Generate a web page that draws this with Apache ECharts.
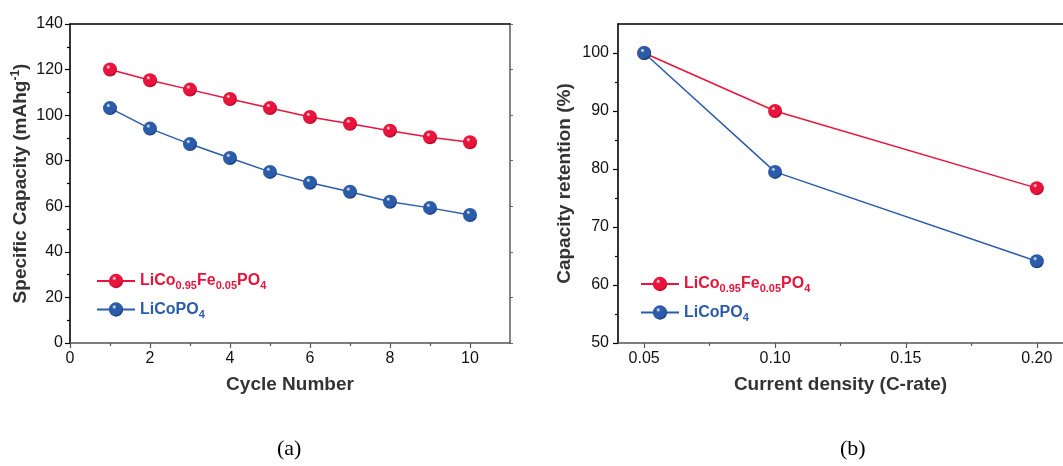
<!DOCTYPE html>
<html>
<head>
<meta charset="utf-8">
<script src="https://cdn.jsdelivr.net/npm/echarts@6/dist/echarts.min.js"></script>
<style>
  html, body { margin: 0; padding: 0; background: #fff; }
  #chart { width: 1063px; height: 466px; }
</style>
</head>
<body>
<div id="chart"></div>
<script>
// (a) capacity vs cycle
const cycles = [1, 2, 3, 4, 5, 6, 7, 8, 9, 10];
const capDoped = [120, 115.3, 111.2, 107.1, 103.1, 99.2, 96.2, 93.2, 90.3, 88.1];
const capPure = [103.1, 94.1, 87.3, 81.2, 75.1, 70.3, 66.4, 62.0, 59.3, 56.2];
const cycleTicks = [0, 2, 4, 6, 8, 10];
const cycleMinor = [1, 3, 5, 7, 9];
const capTicks = [0, 20, 40, 60, 80, 100, 120, 140];
const capMinor = [10, 30, 50, 70, 90, 110, 130];

// (b) retention vs C-rate
const rates = [0.05, 0.10, 0.20];
const retDoped = [100, 90, 76.7];
const retPure = [100, 79.5, 64.1];
const rateTicks = [0.05, 0.10, 0.15, 0.20];
const rateMinor = [0.075, 0.125, 0.175];
const retTicks = [50, 60, 70, 80, 90, 100];
const retMinor = [55, 65, 75, 85, 95];

const nameDoped = 'LiCo0.95Fe0.05PO4';
const namePure = 'LiCoPO4';

const RED = '#e8143c';
const BLUE = '#2b5ca9';

const chart = echarts.init(document.getElementById('chart'));

//球形的点
const ball = (c, dark) => ({
  type: 'radial', x: 0.38, y: 0.32, r: 0.72,
  colorStops: [
    { offset: 0, color: '#ffffff' },
    { offset: 0.22, color: c },
    { offset: 0.75, color: c },
    { offset: 1, color: dark }
  ]
});

const mkSeries = (name, xs, ys, c, dark, idx) => ({
  name: name,
  type: 'line',
  xAxisIndex: idx,
  yAxisIndex: idx,
  data: xs.map((x, i) => [x, ys[i]]),
  symbol: 'circle',
  symbolSize: 14,
  lineStyle: { color: c, width: 1.5 },
  itemStyle: { color: ball(c, dark), borderWidth: 0 },
  z: 5
});

const FONT = 'Liberation Sans, Arial';
const labelFont = { fontFamily: FONT, fontSize: 16, color: '#111' };
const titleFont = { fontFamily: FONT, fontSize: 19, fontWeight: 'bold', color: '#333' };
const yTitleFont = { fontFamily: FONT, fontSize: 19, fontWeight: 'bold', color: '#333' };

// main axis: line + major ticks + labels
const mainAxis = (grid, min, max, ticks, fmt, lineColor, margin, extra) => Object.assign({
  type: 'value', gridIndex: grid, min: min, max: max,
  axisLine: { show: true, onZero: false, lineStyle: { color: lineColor, width: 1.6 } },
  axisTick: { show: true, inside: false, length: 5, customValues: ticks, lineStyle: { color: lineColor, width: 1.2 } },
  axisLabel: Object.assign({ show: true, customValues: ticks, formatter: fmt, margin: margin }, labelFont),
  splitLine: { show: false }
}, extra);

// minor ticks only
const minorAxis = (grid, min, max, ticks, pos, lineColor) => ({
  type: 'value', gridIndex: grid, min: min, max: max, position: pos,
  axisLine: { show: false, onZero: false },
  axisTick: { show: true, length: 3, customValues: ticks, lineStyle: { color: lineColor, width: 1.2 } },
  axisLabel: { show: false },
  splitLine: { show: false }
});

// frame line only
const frameAxis = (grid, min, max, pos, lineColor) => ({
  type: 'value', gridIndex: grid, min: min, max: max, position: pos,
  axisLine: { show: true, onZero: false, lineStyle: { color: lineColor, width: 1.6 } },
  axisTick: { show: false },
  axisLabel: { show: false },
  splitLine: { show: false }
});

const rich = {
  r: { color: RED, fontSize: 16, fontWeight: 'bold', fontFamily: FONT },
  rs: { color: RED, fontSize: 11, fontWeight: 'bold', fontFamily: FONT, padding: [10, 0, 0, 0] },
  b: { color: BLUE, fontSize: 16, fontWeight: 'bold', fontFamily: FONT },
  bs: { color: BLUE, fontSize: 11, fontWeight: 'bold', fontFamily: FONT, padding: [10, 0, 0, 0] }
};
const legendFmt = n => n === nameDoped
  ? '{r|LiCo}{rs|0.95}{r|Fe}{rs|0.05}{r|PO}{rs|4}'
  : '{b|LiCoPO}{bs|4}';

const mkLegend = (left, top) => ({
  left: left, top: top, orient: 'vertical',
  data: [nameDoped, namePure],
  itemWidth: 38, itemHeight: 18, itemGap: 10,
  formatter: legendFmt,
  textStyle: { rich: rich },
  selectedMode: false
});

const fmtRate = v => v.toFixed(2);

chart.setOption({
  animation: false,
  grid: [
    { left: 70, top: 24, width: 440, height: 319 },
    { left: 618, top: 24, width: 451, height: 319 }
  ],
  legend: [mkLegend(91, 268), mkLegend(635, 271)],
  xAxis: [
    mainAxis(0, 0, 11, cycleTicks, v => String(v), '#555', 8, {
      position: 'bottom', name: 'Cycle Number', nameLocation: 'middle', nameGap: 32, nameTextStyle: titleFont
    }),
    mainAxis(1, 0.04, 0.21, rateTicks, fmtRate, '#555', 8, {
      position: 'bottom', name: 'Current density (C-rate)', nameLocation: 'middle', nameGap: 32, nameTextStyle: titleFont
    }),
    minorAxis(0, 0, 11, cycleMinor, 'bottom', '#555'),
    minorAxis(1, 0.04, 0.21, rateMinor, 'bottom', '#555'),
    frameAxis(0, 0, 11, 'top', '#000'),
    frameAxis(1, 0.04, 0.21, 'top', '#000')
  ],
  yAxis: [
    mainAxis(0, 0, 140, capTicks, v => String(v), '#000', 7, {
      position: 'left', name: 'Specific Capacity (mAhg{sup|-1})', nameLocation: 'middle', nameGap: 38,
      nameTextStyle: Object.assign({}, yTitleFont, {
        rich: { sup: { fontSize: 12, fontWeight: 'bold', color: '#333', fontFamily: FONT, padding: [0, 0, 10, 0] } }
      })
    }),
    mainAxis(1, 50, 105, retTicks, v => String(v), '#000', 9, {
      position: 'left', name: 'Capacity retention (%)', nameLocation: 'middle', nameGap: 44, nameTextStyle: yTitleFont
    }),
    minorAxis(0, 0, 140, capMinor, 'left', '#000'),
    minorAxis(1, 50, 105, retMinor, 'left', '#000'),
    Object.assign(frameAxis(0, 0, 140, 'right', '#666'), {
      axisTick: { show: true, length: 3, customValues: capTicks, lineStyle: { color: '#666' } }
    })
  ],
  series: [
    mkSeries(nameDoped, cycles, capDoped, RED, '#a3001f', 0),
    mkSeries(namePure, cycles, capPure, BLUE, '#12336e', 0),
    mkSeries(nameDoped, rates, retDoped, RED, '#a3001f', 1),
    mkSeries(namePure, rates, retPure, BLUE, '#12336e', 1)
  ],
  graphic: [
    { type: 'text', left: 277, top: 438, style: { text: '(a)', font: '22px "Liberation Serif", "Times New Roman"', fill: '#000' } },
    { type: 'text', left: 840, top: 438, style: { text: '(b)', font: '22px "Liberation Serif", "Times New Roman"', fill: '#000' } }
  ]
});
</script>
</body>
</html>
